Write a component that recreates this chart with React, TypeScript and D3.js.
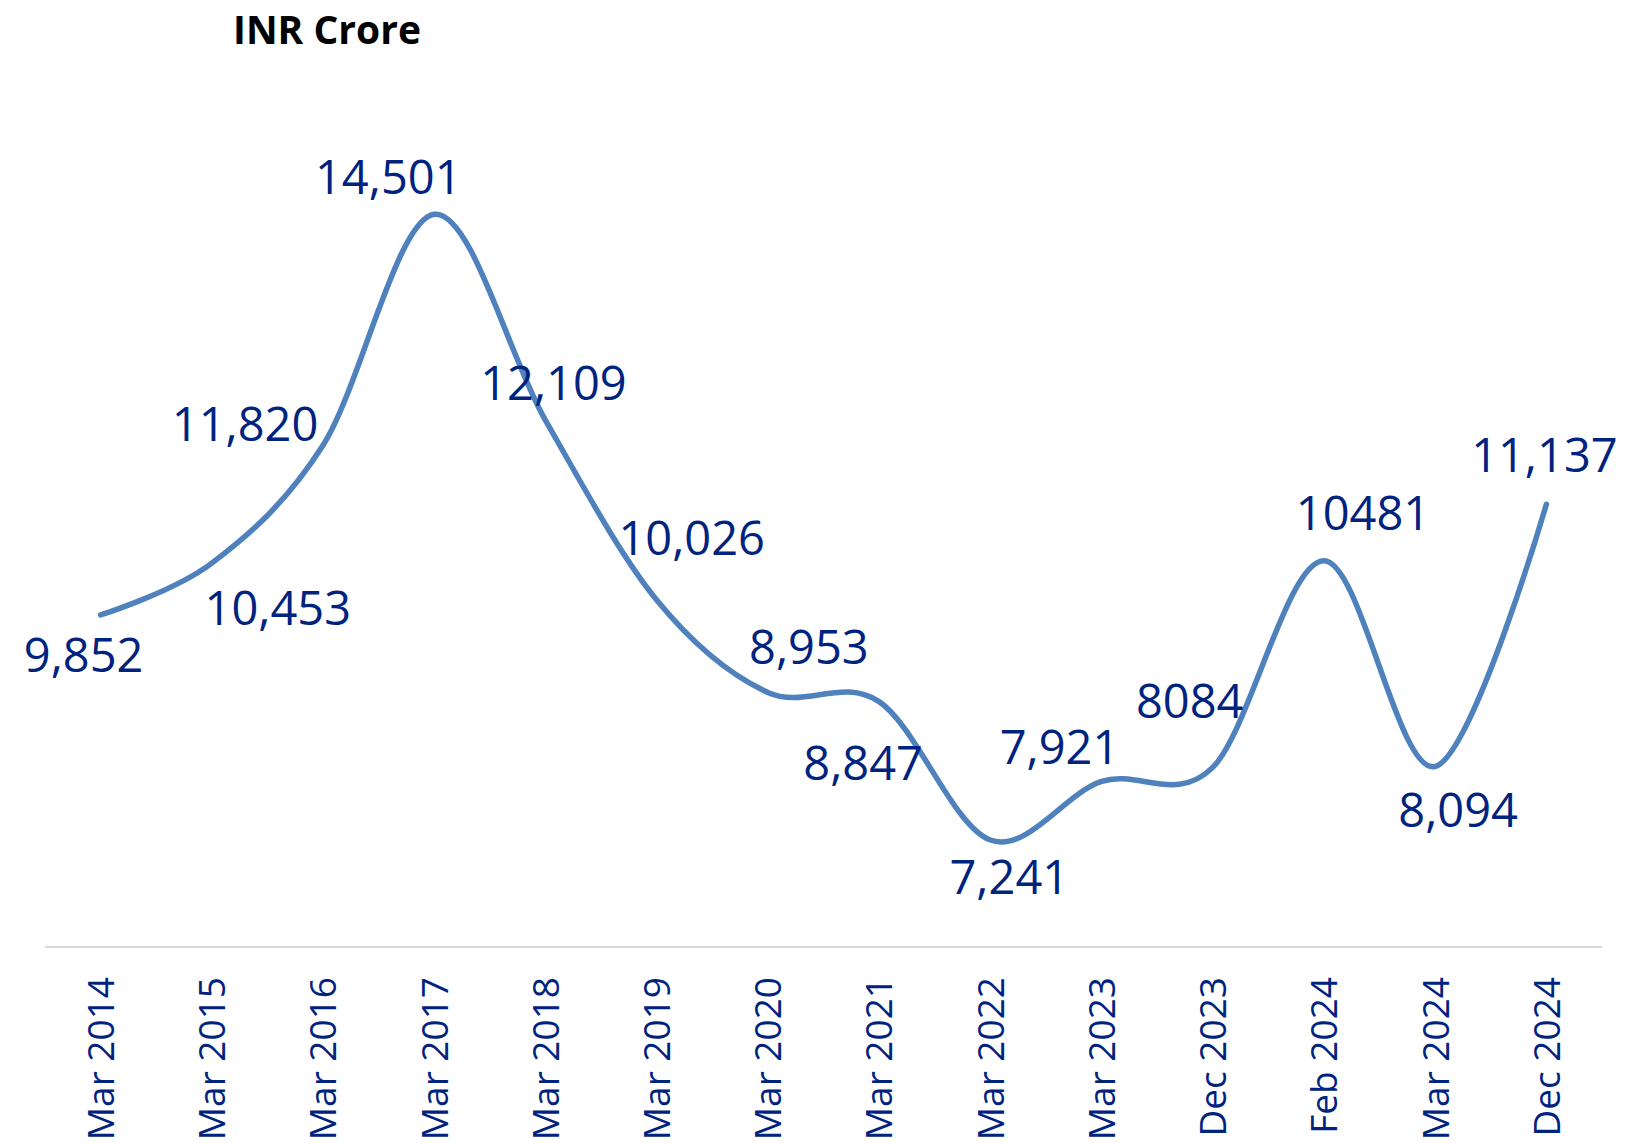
import React, { useEffect, useRef } from 'react';
import * as d3 from 'd3';

// chart values
const categories = [
  'Mar 2014', 'Mar 2015', 'Mar 2016', 'Mar 2017', 'Mar 2018', 'Mar 2019', 'Mar 2020',
  'Mar 2021', 'Mar 2022', 'Mar 2023', 'Dec 2023', 'Feb 2024', 'Mar 2024', 'Dec 2024',
];
const values = [9852, 10453, 11820, 14501, 12109, 10026, 8953, 8847, 7241, 7921, 8084, 10481, 8094, 11137];
const valueLabels = [
  '9,852', '10,453', '11,820', '14,501', '12,109', '10,026', '8,953',
  '8,847', '7,241', '7,921', '8084', '10481', '8,094', '11,137',
];

// where each data label sits relative to its point (dx, dy of baseline)
const labelOffsets: [number, number][] = [
  [-17, 57], [66, 62], [-78, -4], [-46, -20], [8, -20], [35, -45], [41, -28],
  [-16, 78], [19, 54], [-42, -17], [-23, -49], [39, -31], [23, 61], [-2, -32],
];

const W = 1626;
const H = 1143;
const labelColor = '#00237f';
const lineColor = '#4f81bd';
const font = "'Open Sans', 'Noto Sans', sans-serif";

const App: React.FC = () => {
  const svgRef = useRef<SVGSVGElement>(null);

  useEffect(() => {
    if (!svgRef.current) return;
    const svg = d3.select(svgRef.current);
    svg.selectAll('*').remove();

    const axisLeft = 45;
    const axisRight = 1602;
    const axisY = 947;

    const x = d3.scaleBand<string>().domain(categories).range([axisLeft, axisRight]).padding(0);
    const cx = (c: string) => (x(c) || 0) + x.bandwidth() / 2;

    const y = d3.scaleLinear().domain([6000, 16000]).range([axisY, 85]);

    // Title
    svg.append('text')
      .attr('x', 233)
      .attr('y', 44)
      .style('font-family', font)
      .style('font-weight', 'bold')
      .style('font-size', '39px')
      .style('fill', '#000')
      .text('INR Crore');

    // x axis line
    svg.append('line')
      .attr('x1', axisLeft)
      .attr('x2', axisRight)
      .attr('y1', axisY)
      .attr('y2', axisY)
      .attr('stroke', '#d9d9d9')
      .attr('stroke-width', 2);

    // category labels, rotated
    svg.append('g')
      .selectAll('text')
      .data(categories)
      .enter()
      .append('text')
      .attr('transform', d => `translate(${cx(d)}, ${axisY + 30}) rotate(-90)`)
      .attr('text-anchor', 'end')
      .attr('dy', '0.36em')
      .style('font-family', font)
      .style('font-size', '37px')
      .style('fill', labelColor)
      .text(d => d);

    // smoothed line
    const pts = categories.map((c, i) => [cx(c), y(values[i])] as [number, number]);
    const line = d3.line().curve(d3.curveCardinal.tension(0));
    svg.append('path')
      .attr('d', line(pts) || '')
      .attr('fill', 'none')
      .attr('stroke', lineColor)
      .attr('stroke-width', 5.5)
      .attr('stroke-linecap', 'round')
      .attr('stroke-linejoin', 'round');

    // data labels
    svg.append('g')
      .selectAll('text')
      .data(valueLabels)
      .enter()
      .append('text')
      .attr('x', (d, i) => pts[i][0] + labelOffsets[i][0])
      .attr('y', (d, i) => pts[i][1] + labelOffsets[i][1])
      .attr('text-anchor', 'middle')
      .style('font-family', font)
      .style('font-size', '47px')
      .style('fill', labelColor)
      .text(d => d);
  }, []);

  return (
    <svg
      ref={svgRef}
      width={W}
      height={H}
      style={{ position: 'absolute', left: 0, top: 0, background: '#fff' }}
    />
  );
};

export default App;
